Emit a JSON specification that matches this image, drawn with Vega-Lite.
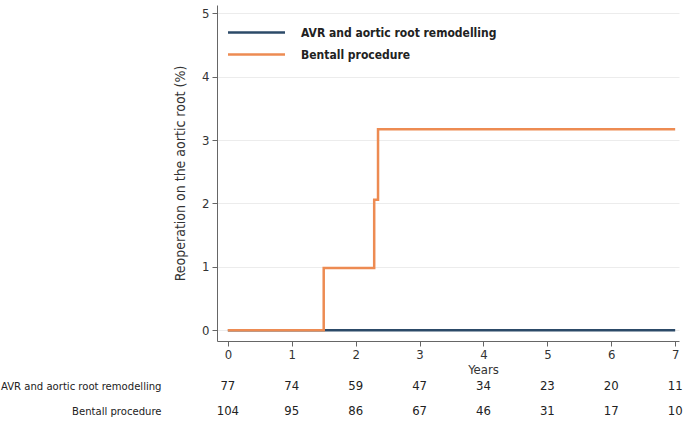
{
  "$schema": "https://vega.github.io/schema/vega-lite/v6.json",
  "padding": {"left": 0, "top": 5, "right": 5, "bottom": 0},
  "bounds": "flush",
  "spacing": 32.5,
  "config": {
    "view": {"stroke": null},
    "font": "Liberation Sans Narrow, DejaVu Sans Condensed, Liberation Sans",
    "axis": {"labelFont": "Liberation Sans Narrow, DejaVu Sans Condensed, Liberation Sans", "titleFont": "Liberation Sans Narrow, DejaVu Sans Condensed, Liberation Sans", "labelColor": "#333333", "titleColor": "#333333", "titleFontWeight": "normal"},
    "legend": {"labelFont": "Liberation Sans Narrow, DejaVu Sans Condensed, Liberation Sans"}
  },
  "datasets": {
    "curves": [
      {"group": "AVR and aortic root remodelling", "years": 0, "pct": 0},
      {"group": "AVR and aortic root remodelling", "years": 7, "pct": 0},
      {"group": "Bentall procedure", "years": 0, "pct": 0},
      {"group": "Bentall procedure", "years": 1.5, "pct": 0.98},
      {"group": "Bentall procedure", "years": 2.29, "pct": 2.06},
      {"group": "Bentall procedure", "years": 2.35, "pct": 3.17},
      {"group": "Bentall procedure", "years": 7, "pct": 3.17}
    ],
    "risk": [
      {"group": "AVR and aortic root remodelling", "years": 0, "n": 77},
      {"group": "AVR and aortic root remodelling", "years": 1, "n": 74},
      {"group": "AVR and aortic root remodelling", "years": 2, "n": 59},
      {"group": "AVR and aortic root remodelling", "years": 3, "n": 47},
      {"group": "AVR and aortic root remodelling", "years": 4, "n": 34},
      {"group": "AVR and aortic root remodelling", "years": 5, "n": 23},
      {"group": "AVR and aortic root remodelling", "years": 6, "n": 20},
      {"group": "AVR and aortic root remodelling", "years": 7, "n": 11},
      {"group": "Bentall procedure", "years": 0, "n": 104},
      {"group": "Bentall procedure", "years": 1, "n": 95},
      {"group": "Bentall procedure", "years": 2, "n": 86},
      {"group": "Bentall procedure", "years": 3, "n": 67},
      {"group": "Bentall procedure", "years": 4, "n": 46},
      {"group": "Bentall procedure", "years": 5, "n": 31},
      {"group": "Bentall procedure", "years": 6, "n": 17},
      {"group": "Bentall procedure", "years": 7, "n": 10}
    ]
  },
  "vconcat": [
    {
      "width": 462,
      "height": 336,
      "data": {"name": "curves"},
      "mark": {"type": "line", "interpolate": "step-after", "strokeWidth": 2.5},
      "encoding": {
        "x": {
          "field": "years", "type": "quantitative",
          "scale": {"domain": [-0.17, 7.06], "nice": false, "zero": false},
          "axis": {"values": [0, 1, 2, 3, 4, 5, 6, 7], "grid": false, "title": "Years", "titleFontSize": 13, "titlePadding": 0, "titleX": 266, "titleY": 22, "labelFontSize": 13, "tickSize": 5, "labelPadding": 2, "domainColor": "#666666", "tickColor": "#666666"}
        },
        "y": {
          "field": "pct", "type": "quantitative",
          "scale": {"domain": [-0.17, 5.13], "nice": false, "zero": false},
          "axis": {"values": [0, 1, 2, 3, 4, 5], "grid": true, "gridColor": "#ececec", "gridWidth": 1, "title": "Reoperation on the aortic root (%)", "titleFontSize": 14, "titlePadding": 14, "labelFontSize": 13, "tickSize": 5, "labelPadding": 3, "domainColor": "#666666", "tickColor": "#666666"}
        },
        "color": {
          "field": "group", "type": "nominal",
          "scale": {"domain": ["AVR and aortic root remodelling", "Bentall procedure"], "range": ["#2c4a68", "#ed8b52"]},
          "legend": {"title": null, "orient": "none", "legendX": 28.5, "legendY": 16.5, "padding": 0, "symbolType": "M-3,0H3", "symbolSize": 361, "symbolStrokeWidth": 2.5, "labelFontSize": 12, "labelFontWeight": "bold", "labelColor": "#222222", "labelOffset": 33.5, "labelLimit": 0, "rowPadding": 5}
        },
        "order": {"field": "group"}
      }
    },
    {
      "width": 462,
      "height": 50,
      "data": {"name": "risk"},
      "mark": {"type": "text", "fontSize": 13, "color": "#222222", "align": "center", "baseline": "middle"},
      "encoding": {
        "x": {"field": "years", "type": "quantitative", "scale": {"domain": [-0.17, 7.06], "nice": false, "zero": false}, "axis": null},
        "y": {"field": "group", "type": "nominal", "sort": ["AVR and aortic root remodelling", "Bentall procedure"], "axis": {"title": null, "domain": false, "ticks": false, "labelFontSize": 11.2, "labelColor": "#222222", "labelPadding": 56, "labelLimit": 0}},
        "text": {"field": "n", "type": "quantitative"}
      }
    }
  ]
}
